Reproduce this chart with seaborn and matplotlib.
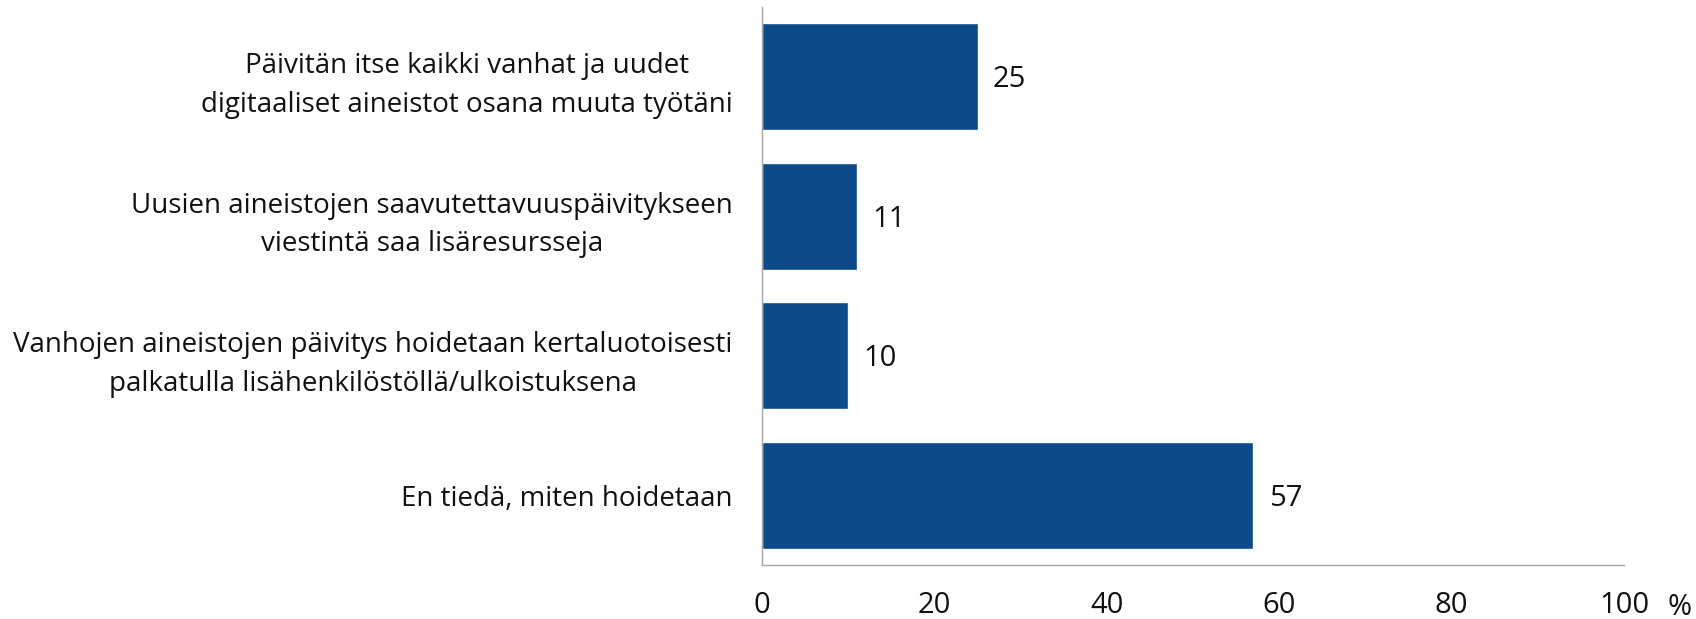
import matplotlib
matplotlib.use("Agg")
from matplotlib import pyplot as plt
import pandas as pd
import seaborn as sns

categories = [
    "Päivitän itse kaikki vanhat ja uudet\ndigitaaliset aineistot osana muuta työtäni",
    "Uusien aineistojen saavutettavuuspäivitykseen\nviestintä saa lisäresursseja",
    "Vanhojen aineistojen päivitys hoidetaan kertaluotoisesti\npalkatulla lisähenkilöstöllä/ulkoistuksena",
    "En tiedä, miten hoidetaan",
]
values = [25, 11, 10, 57]
xticks = [0, 20, 40, 60, 80, 100]

df = pd.DataFrame({"kategoria": categories, "osuus": values})

sns.set_style("white")
plt.rcParams["font.family"] = ["Open Sans", "DejaVu Sans"]

fig = plt.figure(figsize=(16.96, 6.19), dpi=100)
ax = fig.add_axes([0.4493, 0.0872, 0.5083, 0.9015])

sns.barplot(data=df, x="osuus", y="kategoria", orient="h", color="#0D4A8A",
            saturation=1, width=0.77, ax=ax)

for i, v in enumerate(values):
    ax.annotate(str(v), (v, i), xytext=(11, -2), textcoords="offset points",
                va="center", ha="left", fontsize=21, color="#111111")

ax.set_xlim(0, 100)
ax.set_ylim(3.5, -0.5)
ax.set_xticks(xticks)
ax.set_xticklabels([str(t) for t in xticks], fontsize=21, color="#111111")
ax.tick_params(axis="x", length=0, pad=19)
ax.tick_params(axis="y", length=0, pad=21, labelsize=20, labelcolor="#111111")
for lab in ax.get_yticklabels():
    lab.set_multialignment("center")
    lab.set_linespacing(1.5)
    lab.set_y(lab.get_position()[1])
ax.set_xlabel("")
ax.set_ylabel("")
for s in ["top", "right"]:
    ax.spines[s].set_visible(False)
for s in ["left", "bottom"]:
    ax.spines[s].set_color("#A6A6A6")
    ax.spines[s].set_linewidth(1)

fig.text(0.9906, 0.019, "%", fontsize=21, color="#111111", ha="center", va="center")

fig.savefig("out.png", dpi=100)
